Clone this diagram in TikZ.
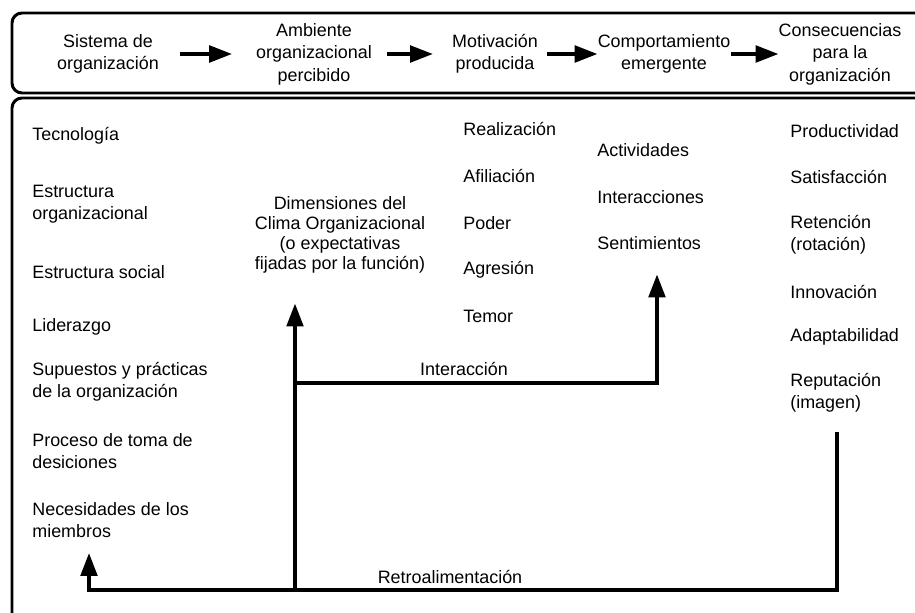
\documentclass[tikz,border=0pt]{standalone}
\usepackage{fontspec}
\setmainfont{Liberation Sans}
\usetikzlibrary{arrows.meta}

\begin{document}
\begin{tikzpicture}[x=0.02cm,y=-0.02cm,>={Triangle[length=13pt,width=9.5pt]},
            box/.style={draw,line width=1.7pt,rounded corners=2mm},
            txt/.style={font=\fontsize{10.2}{12.8}\selectfont,align=center,inner sep=0pt},
            lst/.style={txt,align=left,anchor=west},
            flow/.style={->,line width=1.8pt}]

          \clip (0,0) rectangle (915,612);
          \draw[box] (12,13) rectangle (940,93);
          \draw[box] (12,98) rectangle (940,650);

          \node[txt] (sis) at (108,54) {Sistema de\\organización};
          \node[txt] (amb) at (314,54) {Ambiente\\organizacional\\percibido};
          \node[txt] (mot) at (495,54) {Motivación\\producida};
          \node[txt] (com) at (664,54) {Comportamiento\\emergente};
          \node[txt] (con) at (840,54) {Consecuencias\\para la\\organización};

          \node[lst] (tec) at ( 32,136) {Tecnología};
          \node[lst] (eor) at ( 32,204) {Estructura\\organizacional};
          \node[lst] (esc) at ( 32,272) {Estructura social};
          \node[lst] (lid) at ( 32,327) {Liderazgo};
          \node[lst] (sup) at ( 32,382) {Supuestos y prácticas\\de la organización};
          \node[lst] (pro) at ( 32,451) {Proceso de toma de\\desiciones};
          \node[lst] (nec) at ( 32,520) {Necesidades de los\\miembros};

          \node[txt,font=\fontsize{10.2}{11.4}\selectfont] (dim) at (340,235)
                {Dimensiones del\\Clima Organizacional\\(o expectativas\\fijadas por la función)};

          \node[lst] (rea) at (463,129) {Realización};
          \node[lst] (afi) at (463,176) {Afiliación};
          \node[lst] (pod) at (463,223) {Poder};
          \node[lst] (agr) at (463,270) {Agresión};
          \node[lst] (tem) at (463,316) {Temor};

          \node[lst] (act) at (597,150) {Actividades};
          \node[lst] (itr) at (597,197) {Interacciones};
          \node[lst] (sen) at (597,243) {Sentimientos};

          \node[lst] (prd) at (790,131) {Productividad};
          \node[lst] (sat) at (790,177) {Satisfacción};
          \node[lst] (ret) at (790,235) {Retención\\(rotación)};
          \node[lst] (inn) at (790,292) {Innovación};
          \node[lst] (ada) at (790,337) {Adaptabilidad};
          \node[lst] (rep) at (790,393) {Reputación\\(imagen)};

          \node[txt] (lint) at (464,369) {Interacción};
          \node[txt] (lret) at (450,577) {Retroalimentación};

          \coordinate (fbL) at ( 89,590);
          \coordinate (fbM) at (295,590);
          \coordinate (fbR) at (837,590);
          \coordinate (jn)  at (295,383);
          \coordinate (jnR) at (657,383);

          \path[flow,line width=2pt]
                      (sis) edge[shorten <=11.9pt,shorten >=13.6pt] (amb)
                      (amb) edge[shorten <=8.5pt, shorten >=10.8pt] (mot)
                      (mot) edge[shorten <=5pt]                     (com)
                      (com) edge                                    (con);

          \draw[flow,shorten <=10.8pt,shorten >=8.5pt]
                (fbR |- rep.south) -- (fbR) -- (fbL) -- (fbL |- nec.south);
          \draw[flow,shorten >=17pt] (fbM) -- (fbM |- dim.south);
          \draw[flow,shorten >=14pt] (jn) -- (jnR) -- (jnR |- sen.south);
        \end{tikzpicture}
\end{document}
